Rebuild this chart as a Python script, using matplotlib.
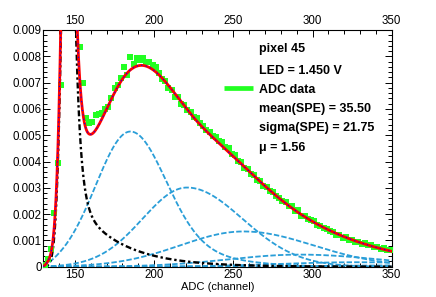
import numpy as np
import matplotlib
matplotlib.use('Agg')
import matplotlib.pyplot as plt
from matplotlib.ticker import FixedLocator, MultipleLocator, FixedFormatter

plt.rcParams['font.family'] = ['Liberation Sans', 'DejaVu Sans']

# ---------------- data ----------------
adc_channel = np.arange(131, 350, 2)
adc_counts = [
    0.00008, 0.00030, 0.00068, 0.00204, 0.00394, 0.00690, 0.01250, 0.01600, 0.01700, 0.01500,
    0.01100, 0.00837, 0.00700, 0.00565, 0.00546, 0.00552, 0.00577, 0.00580, 0.00584, 0.00600,
    0.00609, 0.00640, 0.00679, 0.00690, 0.00717, 0.00761, 0.00729, 0.00799, 0.00770, 0.00792,
    0.00785, 0.00792, 0.00778, 0.00780, 0.00768, 0.00760, 0.00735, 0.00712, 0.00705, 0.00678,
    0.00672, 0.00645, 0.00646, 0.00618, 0.00614, 0.00595, 0.00588, 0.00568, 0.00564, 0.00548,
    0.00535, 0.00518, 0.00514, 0.00497, 0.00494, 0.00478, 0.00474, 0.00457, 0.00452, 0.00430,
    0.00425, 0.00402, 0.00398, 0.00376, 0.00372, 0.00352, 0.00347, 0.00328, 0.00325, 0.00307,
    0.00303, 0.00287, 0.00284, 0.00268, 0.00263, 0.00248, 0.00246, 0.00230, 0.00229, 0.00212,
    0.00214, 0.00194, 0.00192, 0.00180, 0.00179, 0.00172, 0.00160, 0.00156, 0.00146, 0.00145,
    0.00134, 0.00133, 0.00122, 0.00121, 0.00111, 0.00112, 0.00102, 0.00103, 0.00095, 0.00094,
    0.00088, 0.00089, 0.00081, 0.00082, 0.00075, 0.00076, 0.00069, 0.00070, 0.00064, 0.00063,
]

# fit results shown in the legend
pixel_id = 45
led_voltage = 1.450
spe_mean = 35.50
spe_sigma = 21.75
mu = 1.56

# n-photoelectron components (peak position, height, left/right widths, right tail)
pe_peak_adc = [185.0, 220.7, 256.5, 292.0, 328.0, 364.0]
pe_peak_height = [0.00514, 0.00301, 0.00134, 0.00046, 0.00017, 0.00005]
pe_sigma_left = [21.75, 28.0, 40.0, 45.0, 50.0, 55.0]
pe_sigma_right = [22.0, 35.0, 44.0, 50.0, 55.0, 58.0]
pe_tail_weight = [0.15, 0.0, 0.0, 0.0, 0.0, 0.0]
pe_tail_sigma = [45.0, 1.0, 1.0, 1.0, 1.0, 1.0]
threshold_adc = 130.0
threshold_scale = 5.0

# pedestal component
ped_peak_adc = 147.0
ped_height = 0.0248
ped_sigma_left = 4.07
ped_fast_decay = 3.0
ped_slow_amp = 0.00275
ped_slow_decay = 28.0

x_range = (130, 350)
y_range = (0, 0.009)
x_major = [150, 200, 250, 300, 350]
y_labels = ['0', '0.001', '0.002', '0.003', '0.004', '0.005', '0.006', '0.007', '0.008', '0.009']

# ---------------- model curves ----------------
xs = np.linspace(x_range[0], x_range[1], 1501)
thr = np.clip(1.0 - np.exp(-(xs - threshold_adc) / threshold_scale), 0, 1)


def component(x, c, h, sl, sr, w, st):
    dx = x - c
    left = np.exp(-0.5 * (dx / sl) ** 2)
    right = (1 - w) * np.exp(-0.5 * (dx / sr) ** 2) + w * np.exp(-0.5 * (dx / st) ** 2)
    return h * np.where(dx < 0, left, right)


components = [component(xs, *p) * thr
              for p in zip(pe_peak_adc, pe_peak_height, pe_sigma_left, pe_sigma_right,
                           pe_tail_weight, pe_tail_sigma)]

dxp = xs - ped_peak_adc
ped_left = ped_height * np.exp(-0.5 * (dxp / ped_sigma_left) ** 2)
dpos = np.clip(dxp, 0, None)
ped_right = ((ped_height - ped_slow_amp) * np.exp(-dpos / ped_fast_decay)
             + ped_slow_amp * np.exp(-dpos / ped_slow_decay))
pedestal = np.where(dxp < 0, ped_left, ped_right)

total = pedestal + np.sum(components, axis=0)

# ---------------- figure ----------------
W, H = 436, 297
fig = plt.figure(figsize=(W / 100, H / 100), dpi=100)
ax_l, ax_r, ax_t, ax_b = 43.3, 391.7, 30.0, 266.7
ax = fig.add_axes([ax_l / W, 1 - ax_b / H, (ax_r - ax_l) / W, (ax_b - ax_t) / H])

comp_color = '#2a9ed8'
green = '#22ff22'

for comp in components:
    ax.plot(xs, comp, color=comp_color, lw=1.3, ls=(0, (3, 1.2)), zorder=2)
ax.plot(xs, pedestal, color='black', lw=1.7, ls=(0, (2.5, 1.2, 1, 1.2)), zorder=2)

ax.plot(adc_channel, adc_counts, 's', ms=4.5, color=green, mew=0, zorder=3)

ax.plot(xs, total, color='#ff0000', lw=2.0, zorder=4)
ax.plot(xs, total, color='#0000ff', lw=0.8, ls=(0, (1, 3)), zorder=5)

ax.set_xlim(*x_range)
ax.set_ylim(*y_range)

ax.xaxis.set_major_locator(FixedLocator(x_major))
ax.xaxis.set_minor_locator(MultipleLocator(10))
ax.yaxis.set_major_locator(FixedLocator(np.arange(0, 0.00901, 0.001)))
ax.yaxis.set_major_formatter(FixedFormatter(y_labels))
ax.yaxis.set_minor_locator(MultipleLocator(0.0002))

ax.tick_params(which='both', direction='in', top=True, right=True,
               labeltop=True, labelbottom=True, width=0.7, colors='black',
               labelsize=8.3)
ax.tick_params(which='major', length=5)
ax.tick_params(which='minor', length=2.8)
ax.tick_params(axis='x', which='major', pad=2)
ax.tick_params(axis='y', which='major', pad=1.2)
for sp in ax.spines.values():
    sp.set_linewidth(0.8)

fig.text(217.5 / W, 1 - 289.5 / H, 'ADC (channel)', ha='center', va='baseline', fontsize=8)

# legend-like text block
tx = (259.3 - ax_l) / (ax_r - ax_l)
baselines = [52.0, 73.5, 93.0, 112.0, 131.0, 150.5]
labels = [f'pixel {pixel_id}', f'LED = {led_voltage:.3f} V', 'ADC data',
          f'mean(SPE) = {spe_mean:.2f}', f'sigma(SPE) = {spe_sigma:.2f}', f'\u03bc = {mu:.2f}']
for b, lab in zip(baselines, labels):
    ax.text(tx, (ax_b - b) / (ax_b - ax_t), lab, transform=ax.transAxes,
            ha='left', va='baseline', fontsize=9, fontweight='bold', zorder=6)

ly = (ax_b - 88.3) / (ax_b - ax_t)
ax.plot([(224 - ax_l) / (ax_r - ax_l), (253 - ax_l) / (ax_r - ax_l)], [ly, ly],
        transform=ax.transAxes, color=green, lw=3.4, solid_capstyle='butt',
        clip_on=False, zorder=6)

fig.savefig('out.png', dpi=100, facecolor='white')
